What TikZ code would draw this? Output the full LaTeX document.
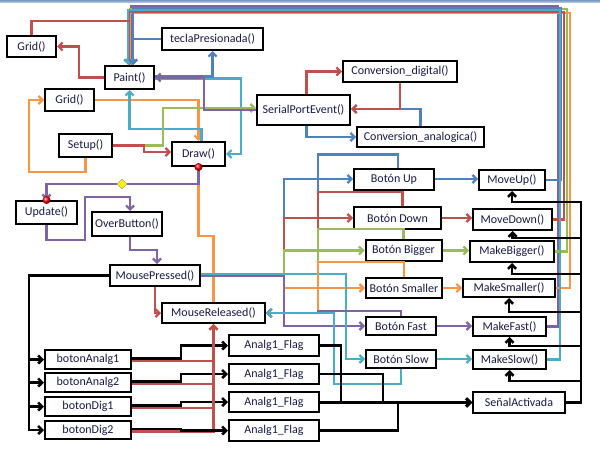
\documentclass[tikz,border=0pt]{standalone}
\usepackage{fontspec}
\setmainfont{Carlito}
\usetikzlibrary{arrows.meta,calc,shapes.geometric}
\definecolor{cred}{RGB}{192,80,77}
\definecolor{cblue}{RGB}{79,129,189}
\definecolor{cgreen}{RGB}{155,187,89}
\definecolor{cpurple}{RGB}{128,100,162}
\definecolor{cteal}{RGB}{75,172,198}
\definecolor{corange}{RGB}{247,150,70}
\definecolor{txt}{RGB}{25,25,70}
\tikzset{
  box/.style={draw,line width=2pt,fill=white,inner sep=1pt,text=txt,font=\fontsize{12}{14}\selectfont},
  line/.style={line width=2.2pt},
  wire/.style={line width=2.2pt,-{Straight Barb[length=4pt,width=8pt]}},
  bwire/.style={line width=2.6pt,-{Straight Barb[length=4pt,width=8pt]}},
  dot/.style={circle,inner sep=0pt,minimum size=8pt,ball color=red},
}

\begin{document}
\begin{tikzpicture}[x=1pt,y=-1pt]
\useasboundingbox (0,0) rectangle (600,452);
\shade[top color={rgb,255:red,120;green,150;blue,190},bottom color={rgb,255:red,200;green,215;blue,235}] (0,0) rectangle (600,3);

\node[box,minimum width=49pt,minimum height=21pt] (grida) at (31.5,46.5) {Grid()};
\node[box,minimum width=101pt,minimum height=22pt] (tecla) at (212.5,39) {teclaPresionada()};
\node[box,minimum width=49pt,minimum height=23pt] (paint) at (129.5,77.5) {Paint()};
\node[box,minimum width=49pt,minimum height=22pt] (gridb) at (69.5,100) {Grid()};
\node[box,minimum width=114pt,minimum height=21pt] (convd) at (400,71.5) {Conversion\_digital()};
\node[box,minimum width=93pt,minimum height=30pt] (serial) at (303.5,110) {SerialPortEvent()};
\node[box,minimum width=127pt,minimum height=20pt] (conva) at (420.5,137) {Conversion\_analogica()};
\node[box,minimum width=53pt,minimum height=23pt] (setup) at (85.5,145.5) {Setup()};
\node[box,minimum width=53pt,minimum height=24pt] (draw) at (198.5,154) {Draw()};
\node[box,minimum width=61pt,minimum height=23pt] (update) at (46.5,212.5) {Update()};
\node[box,minimum width=70pt,minimum height=24pt] (over) at (127,224) {OverButton()};
\node[box,minimum width=90pt,minimum height=21pt] (mpress) at (155,275.5) {MousePressed()};
\node[box,minimum width=103pt,minimum height=20pt] (mrel) at (213.5,313) {MouseReleased()};
\node[diamond,draw=black!45,fill=yellow,inner sep=0pt,minimum size=10pt] (dec) at (122,184) {};

\node[box,minimum width=80pt,minimum height=21pt] (bup) at (394,179) {Botón Up};
\node[box,minimum width=87pt,minimum height=22pt] (bdown) at (397.5,218) {Botón Down};
\node[box,minimum width=76pt,minimum height=21pt] (bbig) at (403.5,250.5) {Botón Bigger};
\node[box,minimum width=76pt,minimum height=20pt] (bsmall) at (404,288) {Botón Smaller};
\node[box,minimum width=70pt,minimum height=18pt] (bfast) at (401,326) {Botón Fast};
\node[box,minimum width=70pt,minimum height=18pt] (bslow) at (401,359) {Botón Slow};
\node[box,minimum width=66pt,minimum height=20pt] (mup) at (512,180) {MoveUp()};
\node[box,minimum width=79pt,minimum height=21pt] (mdown) at (512.5,219.5) {MoveDown()};
\node[box,minimum width=84pt,minimum height=21pt] (mbig) at (512,251.5) {MakeBigger()};
\node[box,minimum width=92pt,minimum height=18pt] (msmall) at (509,288) {MakeSmaller()};
\node[box,minimum width=73pt,minimum height=19pt] (mfast) at (509.5,326.5) {MakeFast()};
\node[box,minimum width=73pt,minimum height=19pt] (mslow) at (509.5,359.5) {MakeSlow()};
\node[box,minimum width=92pt,minimum height=21pt] (senal) at (519,402.5) {SeñalActivada};

\node[box,minimum width=86pt,minimum height=19pt] (ba1) at (88,359.5) {botonAnalg1};
\node[box,minimum width=86pt,minimum height=19pt] (ba2) at (88,382.5) {botonAnalg2};
\node[box,minimum width=86pt,minimum height=19pt] (bd1) at (88,406.5) {botonDig1};
\node[box,minimum width=86pt,minimum height=18pt] (bd2) at (88,430) {botonDig2};
\node[box,minimum width=90pt,minimum height=21pt] (f1) at (274,345.5) {Analg1\_Flag};
\node[box,minimum width=90pt,minimum height=20pt] (f2) at (274,374) {Analg1\_Flag};
\node[box,minimum width=90pt,minimum height=20pt] (f3) at (274,402) {Analg1\_Flag};
\node[box,minimum width=90pt,minimum height=21pt] (f4) at (274,430.5) {Analg1\_Flag};

\foreach \m/\c/\xr/\yt/\dx in {mfast/cpurple/558/6/1.5, mbig/cgreen/567/9/0.5, msmall/corange/570/13/0.5, mdown/cred/564/12/-0.5, mup/cblue/561/8/3.5, mslow/cteal/560/10/-1.5}
  \draw[wire,\c] (\m.east) -| (\xr,\yt) -| ($(paint.north)+(\dx,0)$);
\draw[wire,cblue] (tecla.west) -| ($(paint.north)+(3.5,0)$);
\draw[line,cred] (grida.north) |- ($(paint.north)+(-1,-44)$);
\draw[wire,cred] (paint.west) -- ++(-25,0) |- (grida.east);
\draw[wire,corange] (setup.south) -- ++(0,14) -| ($(gridb.west)+(-15,0)$) -- (gridb.west);
\draw[wire,corange] (gridb.east) -| (draw.north);
\draw[wire,cteal] ($(draw.north)+(3,0)$) |- ($(paint.south)+(0,39)$) -- (paint.south);
\draw[wire,cteal] ($(paint.east)+(0,1)$) -- ++(86,0) |- (draw.east);
\draw[wire,cblue] ($(paint.east)+(0,-1)$) -| (tecla.south);
\draw[wire,cgreen] (setup.east) -- ++(50,0) |- ($(serial.west)+(0,-2)$);
\draw[wire,cpurple] (serial.west) -- ++(-52,0) |- (paint.east);
\draw[wire,cred] (setup.east) -- ++(31,0) |- ($(draw.west)+(0,-2)$);

\draw[wire,cred] ($(serial.north)+(3,0)$) |- (convd.west);
\draw[wire,cblue] ($(serial.south)+(3,0)$) |- (conva.west);
\draw[wire,cblue] (conva.north) |- ($(serial.east)+(0,-1)$);
\draw[wire,cred] (convd.south) |- ($(serial.east)+(0,-1)$);

\draw[line,corange] (draw.south) -- ++(0,69) -| (mrel.north);
\draw[line,cpurple] (draw.south) |- (dec);
\draw[wire,cpurple] (dec) -| (update.north);
\draw[wire,cpurple] (update.south) -- ++(0,15) -| ($(over.north)+(-42,-14)$) -| ($(over.north)+(3,0)$);
\draw[wire,cpurple] ($(over.south)+(3,0)$) -- ++(0,13) -| ($(mpress.north)+(2,0)$);
\draw[wire,cred] (mpress.south) |- (mrel.west);

\foreach \b/\c in {bup/cblue, bdown/cred, bbig/cgreen, bsmall/corange, bfast/cpurple}
  \draw[wire,\c] (mpress.east) -- ++(83,0) |- (\b.west);
\draw[wire,cteal] ($(mpress.east)+(0,-1.5)$) -- ++(145,0) |- (bslow.west);
\foreach \b/\c/\dx/\dy in {bup/cblue/4/13, bdown/cred/5/14, bbig/cgreen/0/10, bsmall/corange/0/15, bfast/cpurple/0/5}
  \draw[wire,\c] ($(\b.north)+(\dx,0)$) -- ++(0,-\dy) -| ($(mrel.east)+(52,0)$) -- (mrel.east);
\draw[wire,cteal] (bslow.south) -- ++(0,15) -| ($(mrel.east)+(68,0)$) -- (mrel.east);

\foreach \b/\m/\c in {bup/mup/cblue, bdown/mdown/cred, bbig/mbig/cgreen, bsmall/msmall/corange, bfast/mfast/cpurple, bslow/mslow/cteal}
  \draw[wire,\c] (\b.east) -- (\b.east -| \m.west);
\foreach \m/\d in {mup/11, mdown/7, mbig/11, msmall/14, mfast/9, mslow/11}
  \draw[bwire] (senal.east) -- ++(15,0) |- ($(\m.south)+(0,\d)$) -- (\m.south);

\foreach \b in {ba1,ba2,bd1,bd2}
  \draw[bwire] (mpress.west) -| ($(\b.west)+(-15,0)$) -- (\b.west);
\foreach \b/\f in {ba1/f1,ba2/f2,bd1/f3,bd2/f4}{
  \draw[wire,cred] ($(\b.east)+(0,1.5)$) -| (mrel.south);
  \draw[bwire] ($(\b.east)+(0,-1)$) -- ++(49,0) |- (\f.west);
}
\foreach \f/\dx in {f1/21,f2/63,f3/0,f4/78}
  \draw[bwire] (\f.east) -- ++(\dx,0) |- (senal.west);

\node[dot] (drawdot) at (draw.south) {};
\node[dot] (updot) at (update.north) {};
\end{tikzpicture}
\end{document}
